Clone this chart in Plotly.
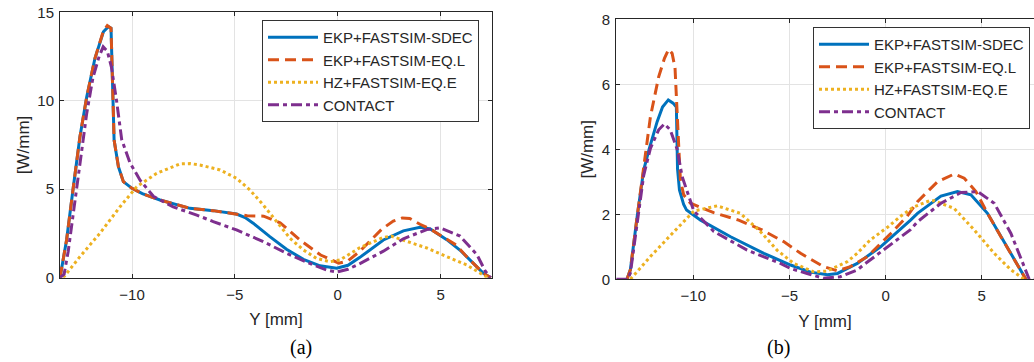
import plotly.graph_objects as go

# ---------------- data: panel (a) ----------------
a_sdec_x = [-13.5, -13.18, -12.85, -12.53, -12.2, -11.8, -11.39, -11.15, -11.02, -10.87, -10.66, -10.42,
            -10.0, -9.5, -8.64, -7.18, -6.05, -4.92, -4.5, -4.11, -3.3, -2.49, -1.67, -0.86, -0.05,
            0.5, 1.08, 2.22, 3.19, 4.0, 4.5, 5.3, 6.0, 6.27, 7.08, 7.45]
a_sdec_y = [0, 2.13, 5.14, 7.97, 10.23, 12.4, 13.9, 14.19, 14.1, 7.78, 6.27, 5.43,
            5.05, 4.75, 4.39, 3.92, 3.79, 3.6, 3.4, 3.08, 2.32, 1.61, 1.04, 0.67, 0.53,
            0.7, 1.15, 2.13, 2.65, 2.85, 2.75, 2.15, 1.5, 1.19, 0.25, 0]

a_eql_x = [-13.5, -13.18, -12.85, -12.53, -12.2, -11.8, -11.39, -11.2, -11.02, -10.87, -10.66, -10.42,
           -10.0, -9.5, -8.64, -7.18, -6.05, -4.92, -4.4, -3.6, -3.3, -2.8, -1.8, -0.83, 0.05,
           0.5, 1.08, 2.14, 2.7, 3.14, 3.5, 4.0, 4.5, 5.3, 5.75, 6.27, 7.08, 7.45]
a_eql_y = [0, 2.13, 5.14, 7.97, 10.23, 12.4, 13.95, 14.25, 14.1, 7.78, 6.27, 5.43,
           5.05, 4.75, 4.39, 3.92, 3.79, 3.58, 3.5, 3.48, 3.35, 3.1, 2.1, 1.28, 0.82,
           0.95, 1.5, 2.74, 3.2, 3.38, 3.35, 3.02, 2.75, 2.15, 1.85, 1.19, 0.25, 0]

a_hz_x = [-13.34, -12.53, -11.56, -10.58, -9.77, -8.8, -7.67, -7.18, -6.7, -5.72, -4.92, -4.27, -3.62,
          -2.97, -2.32, -1.67, -1.03, -0.38, 0.11, 1.08, 2.22, 2.6, 3.19, 4.33, 5.3, 6.27, 7.08, 7.3]
a_hz_y = [0, 1.19, 2.51, 4.01, 5.14, 5.9, 6.43, 6.45, 6.37, 6.09, 5.62, 4.96, 4.11,
          3.17, 2.23, 1.57, 1.09, 0.9, 1.0, 1.7, 2.28, 2.35, 2.12, 1.68, 1.19, 0.72, 0.15, 0]

a_contact_x = [-13.5, -13.3, -13.1, -12.8, -12.5, -12.2, -11.9, -11.6, -11.4, -11.2, -11.0, -10.75, -10.5,
               -10.1, -9.6, -8.96, -8.0, -6.85, -6.05, -4.92, -3.62, -2.49, -1.19, -0.5, -0.05, 0.5,
               1.08, 2.22, 3.19, 4.33, 4.98, 5.95, 6.77, 7.16, 7.42]
a_contact_y = [0, 0.2, 1.5, 4.0, 6.8, 9.3, 11.3, 12.5, 13.05, 12.8, 11.9, 10.0, 7.8,
               6.5, 5.5, 4.6, 4.0, 3.54, 3.17, 2.7, 2.04, 1.38, 0.72, 0.42, 0.32, 0.48,
               0.8, 1.5, 2.2, 2.72, 2.82, 2.35, 1.3, 0.4, 0]

# ---------------- data: panel (b) ----------------
b_sdec_x = [-13.45, -13.27, -12.92, -12.58, -12.3, -11.88, -11.6, -11.3, -11.05, -10.88, -10.82, -10.72,
            -10.5, -10.35, -9.62, -8.06, -6.33, -4.94, -3.9, -3.03, -2.5, -1.47, -0.26, 0.09, 1.3,
            1.66, 2.88, 3.74, 4.44, 5.3, 6.0, 6.69, 7.21, 7.3]
b_sdec_y = [0, 0.3, 1.93, 3.36, 4.0, 4.85, 5.3, 5.52, 5.42, 5.3, 3.4, 2.75,
            2.3, 2.13, 1.82, 1.31, 0.8, 0.44, 0.22, 0.14, 0.18, 0.49, 1.0, 1.18, 1.82,
            2.03, 2.56, 2.7, 2.6, 2.03, 1.31, 0.59, 0.08, 0]

b_eql_x = [-13.45, -13.27, -12.92, -12.58, -12.4, -12.23, -11.8, -11.5, -11.28, -11.1, -10.95, -10.85,
           -10.75, -10.67, -10.5, -10.15, -8.94, -7.64, -6.43, -5.3, -4.42, -3.22, -2.5, -1.83, -0.94,
           0.27, 1.11, 1.66, 2.7, 3.57, 4.09, 4.7, 5.3, 6.0, 6.69, 7.21, 7.3]
b_eql_y = [0, 0.3, 1.93, 3.5, 4.29, 5.0, 6.23, 6.8, 7.08, 6.95, 6.5, 5.0,
           4.0, 3.06, 2.6, 2.34, 2.05, 1.82, 1.52, 1.16, 0.8, 0.39, 0.26, 0.39, 0.7,
           1.41, 1.93, 2.39, 3.0, 3.24, 3.11, 2.7, 2.03, 1.31, 0.59, 0.08, 0]

b_hz_x = [-13.27, -12.23, -11.19, -10.23, -9.97, -8.76, -7.55, -6.51, -5.65, -4.78, -3.74, -3.05,
          -2.0, -1.47, -0.8, 0.1, 0.8, 1.48, 2.3, 2.53, 3.57, 4.61, 5.65, 6.52, 7.21]
b_hz_y = [0, 0.7, 1.35, 1.95, 2.1, 2.26, 2.03, 1.47, 0.9, 0.49, 0.23, 0.25,
          0.54, 0.8, 1.21, 1.6, 1.95, 2.23, 2.42, 2.42, 2.18, 1.52, 0.8, 0.29, 0]

b_contact_x = [-14.0, -13.4, -13.27, -12.92, -12.58, -12.23, -11.8, -11.5, -11.2, -10.93, -10.84, -10.58,
               -10.23, -9.97, -8.93, -7.2, -5.47, -4.94, -4.08, -3.22, -2.36, -1.47, -1.15, 0.07, 1.28,
               1.66, 2.88, 3.92, 4.79, 5.65, 6.52, 7.21, 7.47, 7.72]
b_contact_y = [0, 0, 0.2, 1.8, 3.2, 4.03, 4.6, 4.78, 4.6, 4.15, 4.0, 3.16,
               2.54, 2.1, 1.47, 0.9, 0.49, 0.33, 0.18, 0.03, 0.08, 0.29, 0.44, 0.98, 1.52,
               1.77, 2.34, 2.67, 2.7, 2.34, 1.41, 0.39, 0, 0]

series_names = ["EKP+FASTSIM-SDEC", "EKP+FASTSIM-EQ.L", "HZ+FASTSIM-EQ.E", "CONTACT"]
colors = ["#0072BD", "#D95319", "#EDB120", "#7E2F8E"]
dashes = ["solid", "11px,6px", "3px,3px", "11px,4px,4px,4px"]

x_ticks = [-10, -5, 0, 5]
a_y_ticks = [0, 5, 10, 15]
b_y_ticks = [0, 2, 4, 6, 8]

FONT = "Liberation Sans, Arial, sans-serif"
TXT = "#262626"

fig = go.Figure()

panels = [
    ([(a_sdec_x, a_sdec_y), (a_eql_x, a_eql_y), (a_hz_x, a_hz_y), (a_contact_x, a_contact_y)], "x", "y", "legend"),
    ([(b_sdec_x, b_sdec_y), (b_eql_x, b_eql_y), (b_hz_x, b_hz_y), (b_contact_x, b_contact_y)], "x2", "y2", "legend2"),
]
for data, xa, ya, lg in panels:
    for (xs, ys), name, c, d in zip(data, series_names, colors, dashes):
        fig.add_trace(go.Scatter(x=xs, y=ys, mode="lines", name=name, xaxis=xa, yaxis=ya,
                                 legend=lg, line=dict(color=c, width=3, dash=d)))

axis_common = dict(showline=True, linecolor=TXT, linewidth=1, ticks="inside", ticklen=4,
                   tickcolor=TXT, showgrid=True, gridcolor="#e3e3e3", gridwidth=1, zeroline=False,
                   automargin=False, tickfont=dict(family=FONT, size=15, color=TXT))

title_font = dict(size=17, family=FONT, color=TXT)

fig.update_layout(
    width=1034, height=362, margin=dict(l=0, r=0, t=0, b=0, autoexpand=False),
    paper_bgcolor="white", plot_bgcolor="white",
    font=dict(family=FONT, color=TXT),
    xaxis=dict(domain=[60/1034, 492/1034], range=[-13.5, 7.5], tickvals=x_ticks, anchor="y",
               mirror="ticks", ticklabelstandoff=3,
               title=dict(text="Y [mm]", font=title_font, standoff=11),
               **axis_common),
    yaxis=dict(domain=[1-277.7/362, 1-12.3/362], range=[0, 15], tickvals=a_y_ticks, anchor="x",
               mirror="ticks", ticklabelstandoff=2,
               title=dict(text="[W/mm]", font=title_font, standoff=3),
               **axis_common),
    xaxis2=dict(domain=[616/1034, 1.0], range=[-14.02, 7.72], tickvals=x_ticks, anchor="y2",
                mirror="ticks", ticklabelstandoff=3,
                title=dict(text="Y [mm]", font=title_font, standoff=11),
                **axis_common),
    yaxis2=dict(domain=[1-279.3/362, 1-19.3/362], range=[0, 8], tickvals=b_y_ticks, anchor="x2",
                mirror=False, ticklabelstandoff=2,
                title=dict(text="[W/mm]", font=title_font, standoff=3),
                **axis_common),
    legend=dict(x=262/1034, y=1-20/362, xanchor="left", yanchor="top", bgcolor="white",
                bordercolor="#333333", borderwidth=1, font=dict(family=FONT, size=15, color=TXT),
                itemwidth=50, tracegroupgap=0),
    legend2=dict(x=813/1034, y=1-27/362, xanchor="left", yanchor="top", bgcolor="white",
                 bordercolor="#333333", borderwidth=1, font=dict(family=FONT, size=15, color=TXT),
                 itemwidth=50, tracegroupgap=0),
    annotations=[
        dict(text="(a)", x=301/1034, y=1-347/362, xref="paper", yref="paper", showarrow=False,
             xanchor="center", yanchor="middle",
             font=dict(family="Liberation Serif, Times New Roman, serif", size=20, color="black")),
        dict(text="(b)", x=778/1034, y=1-347/362, xref="paper", yref="paper", showarrow=False,
             xanchor="center", yanchor="middle",
             font=dict(family="Liberation Serif, Times New Roman, serif", size=20, color="black")),
    ],
)

fig.write_html("out.html", config={"displayModeBar": False},
               post_script="document.body.style.margin='0';")
